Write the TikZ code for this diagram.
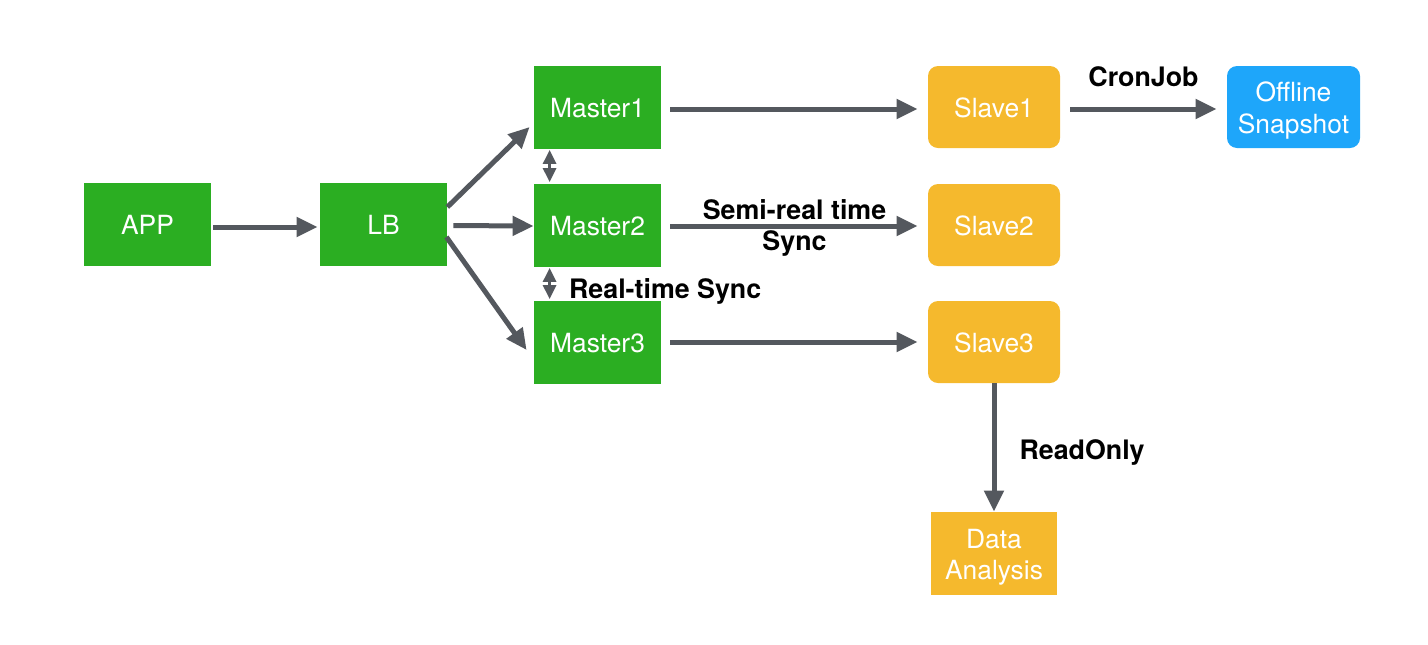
\documentclass[tikz,border=0pt]{standalone}
\usepackage{fontspec}
\setmainfont{TeX Gyre Heros}
\usetikzlibrary{arrows.meta}
\definecolor{mgreen}{RGB}{43,174,34}
\definecolor{morange}{RGB}{245,185,45}
\definecolor{mblue}{RGB}{30,166,250}
\definecolor{mgray}{RGB}{84,88,94}
\begin{document}
\begin{tikzpicture}[x=0.5pt,y=-0.5pt,
  box/.style={rectangle, inner sep=0pt, minimum width=63.5pt, minimum height=41.5pt,
    text=white, font=\fontsize{13.2}{15.75}\selectfont, align=center},
  one/.style={text height=1.0em, text depth=0pt},
  gbox/.style={box, one, fill=mgreen},
  obox/.style={box, one, fill=morange, rounded corners=5pt, minimum width=66pt, minimum height=41pt},
  bbox/.style={box, fill=mblue, rounded corners=5pt, minimum width=66.5pt, minimum height=41pt},
  dbox/.style={box, fill=morange, minimum width=63pt, minimum height=41.5pt},
  arr/.style={draw=mgray, line width=2.5pt, -{Triangle[length=10.5pt,width=9.5pt]}},
  dbl/.style={draw=mgray, line width=1.5pt,
    {Triangle[length=7pt,width=6.5pt]}-{Triangle[length=7pt,width=6.5pt]}},
  lbl/.style={font=\bfseries\fontsize{13.4}{15.5}\selectfont, text=black, align=center}]
\useasboundingbox (0,0) rectangle (1428,644);

\node[gbox] (app) at (147.5,224.5) {APP};
\node[gbox] (lb) at (383.5,224.5) {LB};
\node[gbox] (m1) at (597.5,107) {Master1};
\node[gbox] (m2) at (597.5,225) {Master2};
\node[gbox] (m3) at (597.5,342) {Master3};
\node[obox] (s1) at (994,107) {Slave1};
\node[obox] (s2) at (994,225) {Slave2};
\node[obox] (s3) at (994,342) {Slave3};
\node[bbox] (off) at (1293.5,107) {\rule{0pt}{13.4pt}Offline\\Snapshot};
\node[dbox] (da) at (994,553.5) {\rule{0pt}{13.4pt}Data\\Analysis};

\draw[arr, shorten <=1pt, shorten >=1pt] ([yshift=-1.25pt]app.east) -- ([yshift=-1.25pt]lb.west);
\draw[arr, shorten <=3pt] ([yshift=-0.5pt]lb.east) -- ([yshift=-0.5pt]m2.west);
\draw[arr] ([yshift=8.75pt]lb.east) -- ([xshift=-2pt,yshift=-10pt]m1.west);
\draw[arr] ([xshift=-0.5pt,yshift=-6.25pt]lb.east) -- ([xshift=-3.5pt,yshift=-4pt]m3.west);

\draw[arr, shorten <=4.5pt, shorten >=5pt] ([yshift=-1pt]m1.east) -- ([yshift=-1pt]s1.west);
\draw[arr, shorten <=4.5pt, shorten >=5pt] ([yshift=-0.5pt]m2.east) -- ([yshift=-0.5pt]s2.west)
  node[lbl, midway, yshift=-1pt] {Semi-real time\\Sync};
\draw[arr, shorten <=4.5pt, shorten >=5pt] (m3.east) -- (s3.west);
\draw[arr, shorten <=5pt, shorten >=5pt] ([yshift=-1pt]s1.east) -- ([yshift=-1pt]off.west)
  node[lbl, midway, yshift=16pt] {CronJob};
\draw[arr] (s3.south) -- (da.north)
  node[lbl, midway, anchor=west, xshift=11.5pt, yshift=-2.25pt, inner sep=0pt] {ReadOnly};

\draw[dbl, shorten <=0.5pt, shorten >=0.5pt] ([xshift=8pt]m1.south west) -- ([xshift=8pt]m2.north west);
\draw[dbl, shorten <=0.5pt, shorten >=0.5pt] ([xshift=8pt]m2.south west) -- ([xshift=8pt]m3.north west)
  node[lbl, midway, anchor=west, xshift=9pt, yshift=-4pt, inner sep=0pt] {Real-time Sync};
\end{tikzpicture}
\end{document}
